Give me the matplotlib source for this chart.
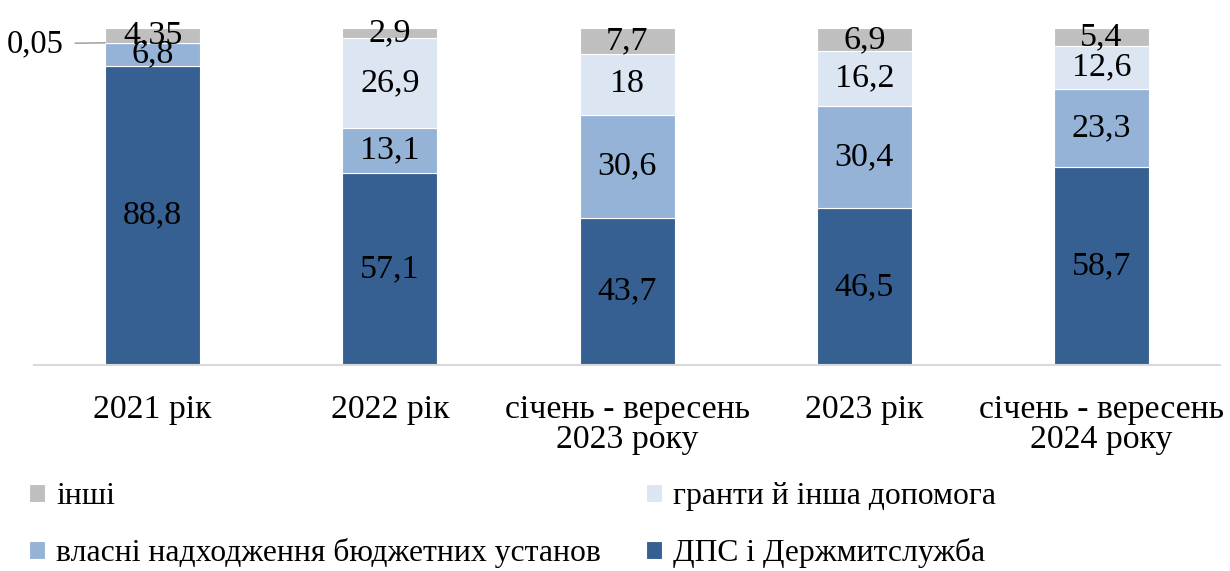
#!/usr/bin/env python3
import matplotlib.pyplot as plt

plt.rcParams['font.family'] = ['Liberation Serif', 'DejaVu Serif']

categories = ["2021 рік", "2022 рік", "січень - вересень\n2023 року",
              "2023 рік", "січень - вересень\n2024 року"]
dps = [88.8, 57.1, 43.7, 46.5, 58.7]
own = [6.8, 13.1, 30.6, 30.4, 23.3]
grants = [0.05, 26.9, 18, 16.2, 12.6]
other = [4.35, 2.9, 7.7, 6.9, 5.4]

names = ["ДПС і Держмитслужба", "власні надходження бюджетних установ",
         "гранти й інша допомога", "інші"]
colors = ["#376092", "#95B3D7", "#DCE6F2", "#BFBFBF"]


def fmt(v):
    s = ("%g" % v).replace(".", ",")
    return s


fig = plt.figure(figsize=(12.3, 5.71), dpi=100)
ax = fig.add_axes([0.0276, 0.361, 0.9644, 0.590])

x = range(len(categories))
bottom = [0] * len(categories)
bars = []
for vals, name, c in zip([dps, own, grants, other], names, colors):
    b = ax.bar(x, vals, 0.40, bottom=bottom, color=c, label=name,
               edgecolor="white", linewidth=0.8)
    bars.append(b)
    labels = [fmt(v) for v in vals]
    if vals is grants:
        labels[0] = ""
    ax.bar_label(b, labels=labels, label_type="center", fontsize=24.5)
    bottom = [bt + v for bt, v in zip(bottom, vals)]

# leader label for the tiny 2021 grants segment
ax.annotate(fmt(grants[0]), xy=(-0.2, dps[0] + own[0]), xycoords="data",
            xytext=(-41, -1), textcoords="offset pixels", ha="right", va="center",
            fontsize=23.5,
            arrowprops=dict(arrowstyle="-", color="#A6A6A6", lw=1.2,
                            shrinkA=6, shrinkB=0),
            annotation_clip=False)

ax.set_xlim(-0.5, 4.5)
ax.set_ylim(0, 100)
ax.set_xticks(list(x))
ax.set_xticklabels(categories, fontsize=24.3, linespacing=1.0)
ax.tick_params(axis="x", length=0, pad=21)
ax.set_yticks([])
for s in ["top", "left", "right"]:
    ax.spines[s].set_visible(False)
ax.spines["bottom"].set_color("#D9D9D9")
ax.spines["bottom"].set_linewidth(1.5)

order = [3, 1, 2, 0]
h = [bars[i] for i in order]
fig.legend(h, [names[i] for i in order], ncol=2, loc="upper left",
           bbox_to_anchor=(0.011, 0.183), frameon=False, fontsize=22.8,
           handlelength=0.5, handleheight=0.5, handletextpad=0.35,
           labelspacing=0.85, columnspacing=1.42, borderpad=0)

fig.savefig("out.png", dpi=100)
